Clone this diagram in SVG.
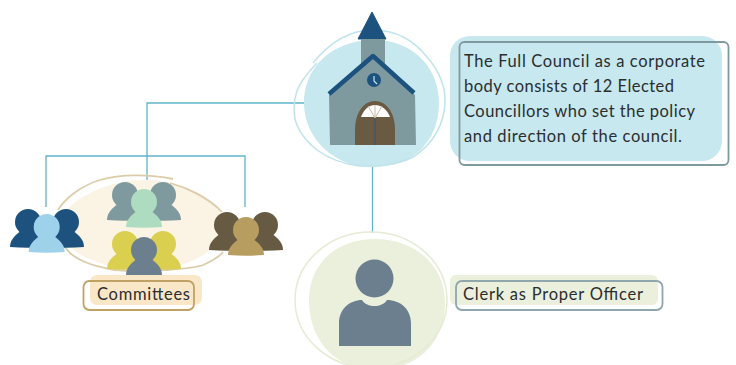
<svg xmlns="http://www.w3.org/2000/svg" width="736" height="365" viewBox="0 0 736 365">
<style>
.t{font-family:"Lato","Liberation Sans",sans-serif;fill:#2b2e30;font-size:16.5px}
.c{fill:none;stroke:#5fb4cd;stroke-width:1.300}
.r{fill:none}
</style>
<defs>
<symbol id="p" overflow="visible"><circle cx="0" cy="0" r="13"/><path d="M-18,25C-18,18-13,13-7,9H7C13,13 18,18 18,25Q0,26.500-18,25Z"/></symbol>
</defs>
<rect width="736" height="365" fill="#fff"/>
<g id="connectors">
<path class="c" d="M314,103H147V180M46,207V156H245V207M372.500,159V233"/>
</g>
<g id="church">
<path d="M304,104C303,70 330,40 374,40C415,40 440,70 439,105C438,140 415,167 372,167C335,167 305,140 304,104Z" fill="#c6e8ee"/>
<path class="r" stroke="#bfe3ea" stroke-width="1.500" d="M313,63C330,42 350,30 373,30C398,30 415,42 427,57C440,72 445,85 445,100C445,125 432,145 413,157C395,166 378,166 360,166C342,164 328,158 317,150C302,138 294,125 294,110C294,95 298,85 305,77C309,72 312,68 317,63"/>
<path d="M358,39L372,12L386,39Z" fill="#1d527f" stroke="#1d527f" stroke-linejoin="round"/>
<rect x="361" y="39" width="24" height="32" fill="#7f9a9f"/>
<path d="M329,95L373,57L415,95L416,145H330Z" fill="#7f9a9f"/>
<path d="M329,94L373,56L414,93" fill="none" stroke="#1d527f" stroke-width="4.500" stroke-linejoin="round"/>
<circle cx="374" cy="80" r="7" fill="#1d527f"/>
<path d="M374,76V81L377,84" fill="none" stroke="#c6e8ee" stroke-width="1.200"/>
<path d="M355,145V130C355,112 364,101 375,101C386,101 395,112 395,130V145Z" fill="#6a5a41"/>
<path d="M361,117C364,109 369,105 375,105C381,105 387,109 390,117Z" fill="#fff"/>
<path d="M375,118L368,106M375,118L382,106M375,105V118" stroke="#c8b9a0" stroke-width="1" fill="none"/>
<path d="M375,118V145" stroke="#3c5a70" stroke-width="1.500"/>
</g>
<g id="council-label">
<rect x="450" y="36" width="272" height="125" rx="20" fill="#c6e8ee"/>
<rect x="459.500" y="42" width="269" height="123" rx="5" fill="none" stroke="#7f9a9f" stroke-width="1.800"/>
<text class="t" x="464" y="67" textLength="241">The Full Council as a corporate</text>
<text class="t" x="464" y="92" textLength="210">body consists of 12 Elected</text>
<text class="t" x="464" y="117" textLength="231">Councillors who set the policy</text>
<text class="t" x="464" y="142" textLength="218">and direction of the council.</text>
</g>
<g id="committees">
<path d="M57,226C62,205 100,180 145,180C185,180 218,200 227,222C225,248 190,270 145,270C100,270 60,250 57,226Z" fill="#fbf3e4"/>
<path class="r" stroke="#dccdaa" stroke-width="1.800" d="M58,210C66,197 83,185 100,180C120,174 150,174 173,179M170,183C185,187 208,197 222,212M58,232C60,240 65,248 70,253C80,262 97,267 115,270C135,272 150,271 167,270C180,269 195,268 203,265C212,261 220,256 223,252"/>
<g id="group-green"><use href="#p" x="125" y="195" fill="#7f9a9f"/><use href="#p" x="163" y="195" fill="#7f9a9f"/><use href="#p" x="144" y="202" fill="#aedcc0"/></g>
<g id="group-yellow"><use href="#p" x="125" y="244" fill="#dacf4e"/><use href="#p" x="163" y="244" fill="#dacf4e"/><use href="#p" x="144" y="250" fill="#6b7f8e"/></g>
<rect x="90" y="275" width="112" height="30" rx="7" fill="#fae7c8"/>
<rect x="83.500" y="281" width="110.500" height="29" rx="6" fill="none" stroke="#bfa265" stroke-width="1.800"/>
<text class="t" x="97" y="300" textLength="93">Committees</text>
</g>
<g id="group-blue"><use href="#p" x="28" y="222" fill="#1d527f"/><use href="#p" x="66" y="222" fill="#1d527f"/><use href="#p" x="46.700" y="227" fill="#9dd2ea"/></g>
<g id="group-brown"><use href="#p" x="227" y="225" fill="#665a42"/><use href="#p" x="265" y="225" fill="#665a42"/><use href="#p" x="246" y="230" fill="#b79d60"/></g>
<g id="clerk">
<path d="M309,300C309,265 335,239 375,239C415,239 445,265 445,303C445,340 420,370 375,370C335,370 309,340 309,300Z" fill="#ebf0dc"/>
<ellipse class="r" cx="371" cy="300" rx="76" ry="68" stroke="#e6ebd5" stroke-width="1.500"/>
<circle cx="374.500" cy="278.500" r="19" fill="#6b7f8e"/>
<path d="M339,346V323C339,309 350,300 362,300C367,308 382,308 387,300C400,300 411,309 411,323V346Z" fill="#6b7f8e"/>
</g>
<g id="clerk-label">
<rect x="450" y="275" width="208" height="30" rx="6" fill="#ebf0dc"/>
<rect x="456" y="281" width="206.500" height="29" rx="6" fill="none" stroke="#8fa6ad" stroke-width="1.800"/>
<text class="t" x="463" y="300" textLength="180">Clerk as Proper Officer</text>
</g>
</svg>
